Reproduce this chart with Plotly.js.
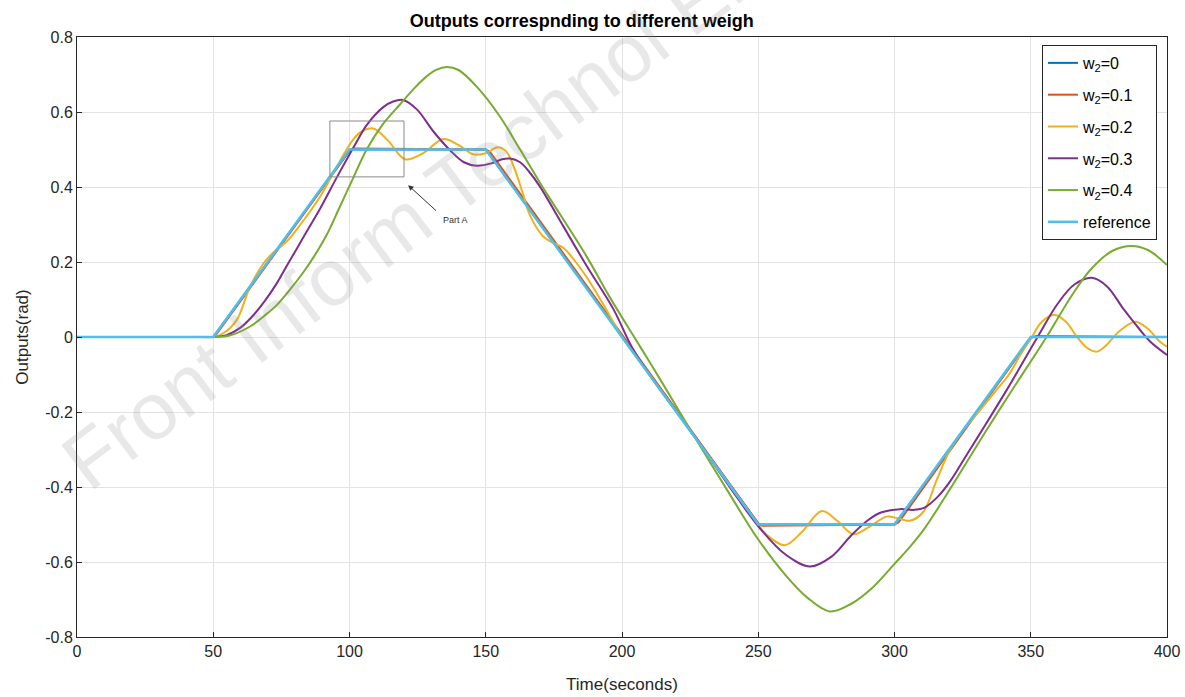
<!DOCTYPE html>
<html>
<head>
<meta charset="utf-8">
<script src="https://cdn.plot.ly/plotly-3.0.1.min.js"></script>
<style>html,body{margin:0;padding:0;background:#fff;}#chart{width:1185px;height:697px;}</style>
</head>
<body>
<div id="chart"></div>
<script>
// ---- data ----
const seriesNames = ['w<sub>2</sub>=0', 'w<sub>2</sub>=0.1', 'w<sub>2</sub>=0.2', 'w<sub>2</sub>=0.3', 'w<sub>2</sub>=0.4', 'reference'];

const refT = [0, 50, 100, 150, 250, 300, 350, 400];
const refV = [0, 0, 0.5, 0.5, -0.5, -0.5, 0, 0];

const w0T = [0, 50, 100.3, 150, 250.3, 300, 350.3, 400];
const w0V = [0, 0, 0.5, 0.5, -0.5, -0.5, 0, 0];

const w1T = [0, 50, 51, 100, 101.5, 150, 151.5, 250, 251.5, 300, 301.5, 350, 352, 400];
const w1V = [0, 0, 0.006, 0.496, 0.503, 0.5, 0.494, -0.497, -0.503, -0.5, -0.494, -0.003, 0.003, 0];

const w2T = [0, 45, 50, 53.7, 58.6, 63.5, 68.4, 72, 77, 82, 89.2, 95, 101.4, 104.5, 108.7, 114, 120.4, 127, 134.4, 140, 145.4, 150, 154.4, 157.5, 160.5, 163.5, 166.2, 171.1, 175, 178.5, 183, 187, 192.5, 200, 210, 220, 230, 240, 248, 253, 259.8, 266, 273.3, 279, 284.9, 291, 297.1, 301, 305.7, 310.6, 315.5, 320.4, 325.3, 331.4, 337, 342, 346, 350, 354, 358.9, 363, 367, 370.5, 374.2, 378, 382, 388.3, 393, 397, 400];
const w2V = [0, 0, 0, 0.01, 0.045, 0.134, 0.196, 0.225, 0.255, 0.3, 0.374, 0.45, 0.527, 0.548, 0.556, 0.525, 0.474, 0.49, 0.528, 0.512, 0.487, 0.49, 0.506, 0.495, 0.45, 0.385, 0.325, 0.268, 0.25, 0.238, 0.2, 0.16, 0.095, 0.0, -0.1, -0.2, -0.3, -0.4, -0.48, -0.527, -0.555, -0.52, -0.464, -0.49, -0.526, -0.505, -0.479, -0.483, -0.49, -0.466, -0.381, -0.301, -0.248, -0.195, -0.145, -0.1, -0.05, -0.005, 0.04, 0.059, 0.04, 0.0, -0.028, -0.039, -0.02, 0.012, 0.041, 0.022, -0.01, -0.026];

const w3T = [0, 45, 50, 54.9, 60, 64.7, 69, 73.3, 77, 80.6, 85, 89.2, 95.3, 102.6, 106.3, 112.4, 116, 119.6, 124.7, 130.8, 136.9, 142, 146.6, 152, 156, 158.9, 162.6, 166, 169.9, 178.5, 187, 196.8, 203.5, 210, 220, 230, 240, 250.6, 260, 269, 277, 284, 290, 295, 302, 307, 311, 316, 320.4, 326, 331.4, 341.2, 352.5, 360, 366, 372.4, 378, 384, 390, 393.8, 400];
const w3V = [0, 0, 0, 0.005, 0.025, 0.058, 0.097, 0.143, 0.19, 0.235, 0.29, 0.342, 0.425, 0.52, 0.565, 0.613, 0.628, 0.632, 0.607, 0.548, 0.498, 0.466, 0.457, 0.463, 0.474, 0.476, 0.466, 0.44, 0.401, 0.295, 0.19, 0.075, -0.025, -0.1, -0.2, -0.3, -0.405, -0.51, -0.58, -0.612, -0.585, -0.53, -0.49, -0.468, -0.459, -0.461, -0.455, -0.425, -0.385, -0.32, -0.257, -0.141, 0.0, 0.09, 0.14, 0.158, 0.135, 0.075, 0.02, -0.012, -0.048];

const w4T = [0, 45, 50, 56, 63.5, 69, 73.3, 78, 83, 87, 91.6, 96, 101.4, 106.3, 112, 118.5, 124, 128.3, 132, 135.7, 140, 147, 155, 162.6, 170, 174.8, 187, 195.6, 206.6, 215, 228.6, 240, 250, 260, 268, 276.3, 284, 292, 300, 305, 310.6, 320, 333.8, 342.4, 355.8, 365, 372, 380, 387, 393, 400];
const w4V = [0, 0, 0, 0.004, 0.028, 0.058, 0.085, 0.125, 0.172, 0.215, 0.272, 0.34, 0.425, 0.5, 0.565, 0.62, 0.665, 0.695, 0.713, 0.72, 0.712, 0.665, 0.59, 0.5, 0.41, 0.355, 0.215, 0.105, -0.025, -0.125, -0.29, -0.425, -0.54, -0.635, -0.695, -0.732, -0.712, -0.668, -0.605, -0.565, -0.515, -0.41, -0.248, -0.15, 0, 0.11, 0.18, 0.23, 0.243, 0.232, 0.192];

const xTicks = [0, 50, 100, 150, 200, 250, 300, 350, 400];
const xTickText = ['0', '50', '100', '150', '200', '250', '300', '350', '400'];
const yTicks = [-0.8, -0.6, -0.4, -0.2, 0, 0.2, 0.4, 0.6, 0.8];
const yTickText = ['-0.8', '-0.6', '-0.4', '-0.2', '0', '0.2', '0.4', '0.6', '0.8'];

// Part A box and arrow (data coordinates)
const partABoxX = [92.8, 120.0];
const partABoxY = [0.427, 0.576];
const partAArrowHead = [121.5, 0.405];
const partAArrowTail = [132.5, 0.332];
const partALabel = [139, 0.312];

// ---- styling ----
const colors = ['#0072BD', '#D95319', '#EDB120', '#7E2F8E', '#77AC30', '#4DBEEE'];
const xs = [w0T, w1T, w2T, w3T, w4T, refT];
const ys = [w0V, w1V, w2V, w3V, w4V, refV];
const widths = [2, 2, 2, 2, 2, 2.6];

const traces = xs.map((x, i) => ({
  x: x, y: ys[i], type: 'scatter', mode: 'lines', name: seriesNames[i], legendgroup: 'g' + i,
  line: {color: colors[i], width: widths[i], shape: (i === 5 || i === 0 || i === 1) ? 'linear' : 'spline', smoothing: 1}
}));

const font = 'Arial, "Liberation Sans", sans-serif';
const axisCommon = {
  showgrid: true, gridcolor: '#e3e3e3', gridwidth: 1,
  showline: true, mirror: true, linecolor: '#262626', linewidth: 1,
  ticks: 'inside', ticklen: 5, tickcolor: '#262626',
  zeroline: false, tickfont: {family: font, size: 16, color: '#262626'}
};

const layout = {
  width: 1185, height: 697,
  margin: {l: 77, r: 18, t: 37, b: 60},
  paper_bgcolor: '#ffffff', plot_bgcolor: '#ffffff',
  title: {text: '<b>Outputs correspnding to different weigh</b>', x: 0.463, xref: 'paper', xanchor: 'center', y: 0.971, yanchor: 'middle',
          font: {family: font, size: 18, color: '#000'}},
  xaxis: Object.assign({}, axisCommon, {range: [0, 400], tickvals: xTicks, ticktext: xTickText,
          title: {text: 'Time(seconds)', font: {family: font, size: 17, color: '#262626'}, standoff: 18}}),
  yaxis: Object.assign({}, axisCommon, {range: [-0.8, 0.8], tickvals: yTicks, ticktext: yTickText,
          title: {text: 'Outputs(rad)', font: {family: font, size: 17, color: '#262626'}, standoff: 12}}),
  showlegend: true,
  legend: {x: 0.9908, xanchor: 'right', y: 0.9867, yanchor: 'top', bgcolor: '#ffffff',
           bordercolor: '#262626', borderwidth: 1, font: {family: font, size: 16, color: '#000'},
           itemwidth: 30, tracegroupgap: 8},
  shapes: [{type: 'rect', xref: 'x', yref: 'y', x0: partABoxX[0], x1: partABoxX[1], y0: partABoxY[0], y1: partABoxY[1],
            line: {color: '#8a8a8a', width: 1}, fillcolor: 'rgba(0,0,0,0)'}],
  annotations: [
    {xref: 'x', yref: 'y', axref: 'x', ayref: 'y', x: partAArrowHead[0], y: partAArrowHead[1],
     ax: partAArrowTail[0], ay: partAArrowTail[1], text: ' ', showarrow: true, arrowhead: 2, arrowsize: 1.1,
     arrowwidth: 1, arrowcolor: '#333333', font: {size: 2}},
    {xref: 'x', yref: 'y', x: partALabel[0], y: partALabel[1], text: 'Part A', showarrow: false,
     font: {family: font, size: 9, color: '#333'}, xanchor: 'center', yanchor: 'middle'},
    {xref: 'paper', yref: 'paper', x: 0.329, y: 0.733, text: 'Front Inform Technol Elec', showarrow: false,
     textangle: -37, font: {family: font, size: 80, color: 'rgba(140,140,140,0.2)'}, xanchor: 'center', yanchor: 'middle'}
  ]
};

Plotly.newPlot('chart', traces, layout, {displayModeBar: false, staticPlot: true});
</script>
</body>
</html>
